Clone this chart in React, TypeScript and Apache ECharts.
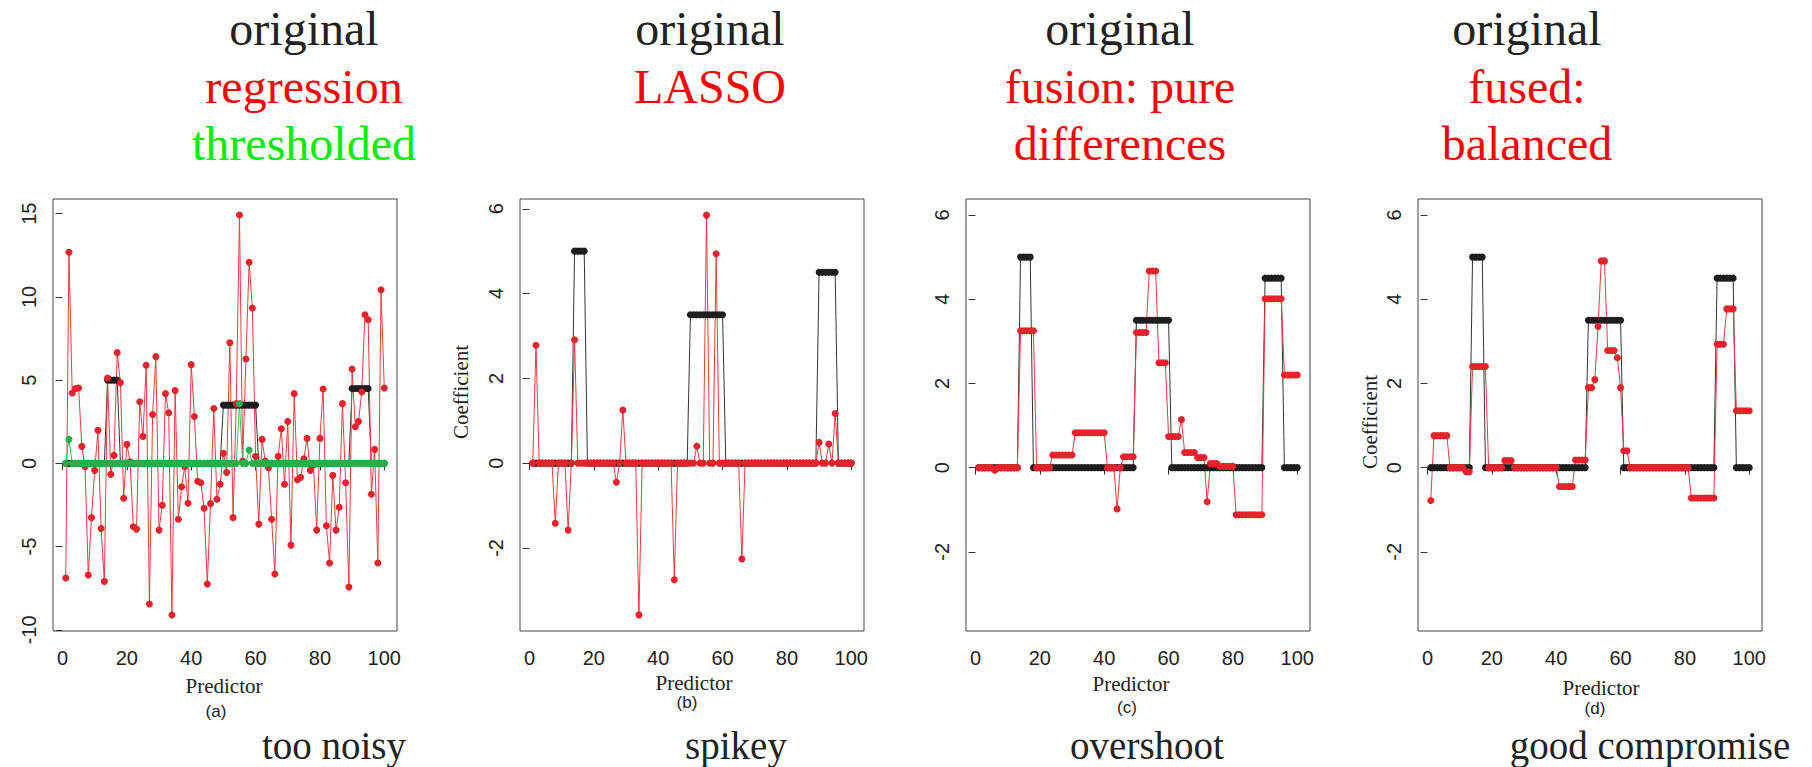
import React, { useEffect, useRef } from "react";
import * as echarts from "echarts";

// ---------- data ----------
const PREDICTORS = [
  1, 2, 3, 4, 5, 6, 7, 8, 9, 10, 11, 12, 13, 14, 15, 16, 17, 18, 19, 20,
  21, 22, 23, 24, 25, 26, 27, 28, 29, 30, 31, 32, 33, 34, 35, 36, 37, 38, 39, 40,
  41, 42, 43, 44, 45, 46, 47, 48, 49, 50, 51, 52, 53, 54, 55, 56, 57, 58, 59, 60,
  61, 62, 63, 64, 65, 66, 67, 68, 69, 70, 71, 72, 73, 74, 75, 76, 77, 78, 79, 80,
  81, 82, 83, 84, 85, 86, 87, 88, 89, 90, 91, 92, 93, 94, 95, 96, 97, 98, 99, 100,
];

const ORIGINAL = [
  0, 0, 0, 0, 0, 0, 0, 0, 0, 0,
  0, 0, 0, 5, 5, 5, 5, 0, 0, 0,
  0, 0, 0, 0, 0, 0, 0, 0, 0, 0,
  0, 0, 0, 0, 0, 0, 0, 0, 0, 0,
  0, 0, 0, 0, 0, 0, 0, 0, 0, 3.5,
  3.5, 3.5, 3.5, 3.5, 3.5, 3.5, 3.5, 3.5, 3.5, 3.5,
  0, 0, 0, 0, 0, 0, 0, 0, 0, 0,
  0, 0, 0, 0, 0, 0, 0, 0, 0, 0,
  0, 0, 0, 0, 0, 0, 0, 0, 0, 4.5,
  4.5, 4.5, 4.5, 4.5, 4.5, 0, 0, 0, 0, 0,
];

const REGRESSION = [
  -6.89, 12.68, 4.23, 4.49, 4.53, 1.02, -0.2, -6.71, -3.26, -0.42,
  1.98, -3.91, -7.09, 5.13, -0.66, 0.48, 6.65, 4.85, -2.1, 1.14,
  0.1, -3.81, -3.95, 3.7, 1.62, 5.89, -8.45, 2.94, 6.41, -4.01,
  -2.52, 4.19, 3.04, -9.11, 4.37, -3.36, -1.4, -0.2, -2.4, 5.93,
  2.82, -1.08, -1.16, -2.7, -7.25, -2.42, 3.3, -2.16, -1.26, 0.6,
  -0.54, 7.24, -3.26, 3.59, 14.92, 0.14, 6.27, 12.08, 9.33, 0.42,
  -3.65, 1.44, 0.14, -0.26, -3.36, -6.65, 0.42, 2.08, -1.26, 2.52,
  -4.91, 4.19, -0.98, -0.84, 0.28, 1.5, -0.42, -0.1, -4.01, 1.5,
  4.47, -3.75, -5.99, -0.72, -4.01, -2.64, 3.59, -1.16, -7.43, 5.67,
  2.2, 2.52, 4.29, 8.93, 8.63, -1.86, 0.84, -5.99, 10.43, 4.53,
];

const THRESHOLDED = [
  0, 1.44, 0, 0, 0, 0, 0, 0, 0, 0,
  0, 0, 0, 0, 0, 0, 0, 0, 0, 0,
  0, 0, 0, 0, 0, 0, 0, 0, 0, 0,
  0, 0, 0, 0, 0, 0, 0, 0, 0, 0,
  0, 0, 0, 0, 0, 0, 0, 0, 0, 0,
  0, 0, 0, 0, 3.59, 0, 0, 0.8, 0, 0,
  0, 0, 0, 0, 0, 0, 0, 0, 0, 0,
  0, 0, 0, 0, 0, 0, 0, 0, 0, 0,
  0, 0, 0, 0, 0, 0, 0, 0, 0, 0,
  0, 0, 0, 0, 0, 0, 0, 0, 0, 0,
];

const LASSO = [
  0, 2.78, 0, 0, 0, 0, 0, -1.42, 0, 0,
  0, -1.58, 0, 2.91, 0, 0, 0, 0, 0, 0,
  0, 0, 0, 0, 0, 0, -0.45, 0, 1.25, 0,
  0, 0, 0, -3.58, 0, 0, 0, 0, 0, 0,
  0, 0, 0, 0, -2.75, 0, 0, 0, 0, 0,
  0, 0.4, 0, 0, 5.85, 0, 0, 4.94, 0, 0,
  0, 0, 0, 0, 0, -2.26, 0, 0, 0, 0,
  0, 0, 0, 0, 0, 0, 0, 0, 0, 0,
  0, 0, 0, 0, 0, 0, 0, 0, 0, 0.49,
  0, 0, 0.45, 0, 1.17, 0, 0, 0, 0, 0,
];

const FUSION = [
  0, 0, 0, 0, 0, -0.06, 0, 0, 0, 0,
  0, 0, 0, 3.25, 3.25, 3.25, 3.25, 3.25, 0, 0,
  0, 0, 0, 0.3, 0.3, 0.3, 0.3, 0.3, 0.3, 0.3,
  0.83, 0.83, 0.83, 0.83, 0.83, 0.83, 0.83, 0.83, 0.83, 0.83,
  0, 0, 0, -0.98, 0, 0.26, 0.26, 0.26, 0.26, 3.21,
  3.21, 3.21, 3.21, 4.67, 4.67, 4.67, 2.49, 2.49, 2.49, 0.74,
  0.74, 0.74, 0.74, 1.14, 0.36, 0.36, 0.36, 0.36, 0.24, 0.24,
  0.24, -0.81, 0.1, 0.1, 0.1, 0.03, 0.03, 0.03, 0.03, 0.03,
  -1.12, -1.12, -1.12, -1.12, -1.12, -1.12, -1.12, -1.12, -1.12, 4.01,
  4.01, 4.01, 4.01, 4.01, 4.01, 2.2, 2.2, 2.2, 2.2, 2.2,
];

const FUSED = [
  -0.78, 0.76, 0.76, 0.76, 0.76, 0.76, 0, 0, 0, 0,
  0, -0.1, -0.1, 2.4, 2.4, 2.4, 2.4, 2.4, 0, 0,
  0, 0, 0, 0.17, 0.17, 0.17, 0, 0, 0, 0,
  0, 0, 0, 0, 0, 0, 0, 0, 0, 0,
  -0.45, -0.45, -0.45, -0.45, -0.45, 0.18, 0.18, 0.18, 0.18, 1.9,
  1.9, 2.09, 3.35, 4.91, 4.91, 2.78, 2.78, 2.78, 2.61, 1.9,
  0.4, 0.4, 0, 0, 0, 0, 0, 0, 0, 0,
  0, 0, 0, 0, 0, 0, 0, 0, 0, 0,
  0, -0.72, -0.72, -0.72, -0.72, -0.72, -0.72, -0.72, -0.72, 2.93,
  2.93, 2.93, 3.77, 3.77, 3.77, 1.35, 1.35, 1.35, 1.35, 1.35,
];

const X_TICKS = [0, 20, 40, 60, 80, 100];
const Y_TICKS_A = [-10, -5, 0, 5, 10, 15];
const Y_TICKS_BCD = [-2, 0, 2, 4, 6];

const TITLES = [
  [["original", "black"], ["regression", "red"], ["thresholded", "green"]],
  [["original", "black"], ["LASSO", "red"]],
  [["original", "black"], ["fusion: pure", "red"], ["differences", "red"]],
  [["original", "black"], ["fused:", "red"], ["balanced", "red"]],
];
const PANEL_LETTERS = ["(a)", "(b)", "(c)", "(d)"];
const CAPTIONS = ["too noisy", "spikey", "overshoot", "good compromise"];

// ---------- styles / layout ----------
const SERIF = "Liberation Serif";
const SANS = "Liberation Sans";
const C_BLACK = "#1e1e1e";
const C_RED = "#e8212b";
const C_GREEN = "#27ae4a";
const TITLE_COLORS: Record<string, string> = {
  black: "#222222",
  red: "#ff0000",
  green: "#00ee00",
};

const GRIDS = [
  { left: 53, top: 199, width: 344, height: 432 },
  { left: 520, top: 199, width: 344, height: 432 },
  { left: 966, top: 199, width: 344, height: 432 },
  { left: 1418, top: 199, width: 344, height: 432 },
];
const Y_RANGES = [
  [-10.07, 15.88],
  [-3.96, 6.23],
  [-3.88, 6.38],
  [-3.88, 6.38],
];
const TITLE_CX = [304, 710, 1120, 1527];
const TITLE_Y = [28, 86, 143];
const PRED_POS = [
  [224, 686],
  [694, 683],
  [1131, 684],
  [1601, 688],
];
const LETTER_POS = [
  [216, 711],
  [687, 702],
  [1127, 707],
  [1595, 708],
];
const CAPTION_POS = [
  [334, 745],
  [736, 745],
  [1147, 745],
  [1650, 745],
];
const COEF_POS: Record<number, [number, number]> = {
  1: [461, 392],
  3: [1370, 422],
};

function pts(arr: number[]) {
  return PREDICTORS.map((x, i) => [x, arr[i]]);
}

function lineSeries(k: number, arr: number[], color: string, lineColor: string) {
  return {
    type: "line",
    xAxisIndex: k,
    yAxisIndex: k,
    data: pts(arr),
    symbol: "circle",
    symbolSize: 7,
    showSymbol: true,
    itemStyle: { color },
    lineStyle: { color: lineColor, width: 1 },
    emphasis: { disabled: true },
    silent: true,
  };
}

export default function App() {
  const ref = useRef<HTMLDivElement>(null);

  useEffect(() => {
    if (!ref.current) return;
    const chart = echarts.init(ref.current, undefined, { renderer: "svg" });

    const grid = GRIDS.map((g) => ({
      ...g,
      show: true,
      borderColor: "#444",
      borderWidth: 1,
      backgroundColor: "transparent",
      containLabel: false,
    }));

    const xAxis = GRIDS.map((_, k) => ({
      gridIndex: k,
      type: "value",
      min: -2.96,
      max: 103.96,
      axisLine: { show: false },
      splitLine: { show: false },
      axisTick: {
        show: true,
        inside: false,
        length: 7,
        customValues: X_TICKS,
        lineStyle: { color: "#333", width: 1 },
      },
      axisLabel: {
        customValues: X_TICKS,
        fontFamily: SANS,
        fontSize: 20,
        color: "#222",
        margin: 17,
      },
    }));

    const yAxis = GRIDS.map((_, k) => {
      const ticks = k === 0 ? Y_TICKS_A : Y_TICKS_BCD;
      return {
        gridIndex: k,
        type: "value",
        min: Y_RANGES[k][0],
        max: Y_RANGES[k][1],
        axisLine: { show: false },
        splitLine: { show: false },
        axisTick: {
          show: true,
          inside: false,
          length: 7,
          customValues: ticks,
          lineStyle: { color: "#333", width: 1 },
        },
        axisLabel: {
          customValues: ticks,
          rotate: 90,
          fontFamily: SANS,
          fontSize: 20,
          color: "#222",
          margin: 14,
        },
      };
    });

    const series: any[] = [
      lineSeries(0, ORIGINAL, C_BLACK, "#333"),
      lineSeries(0, REGRESSION, C_RED, "#f03a3f"),
      lineSeries(0, THRESHOLDED, C_GREEN, "#3cc060"),
      lineSeries(1, ORIGINAL, C_BLACK, "#333"),
      lineSeries(1, LASSO, C_RED, "#f03a3f"),
      lineSeries(2, ORIGINAL, C_BLACK, "#333"),
      lineSeries(2, FUSION, C_RED, "#f03a3f"),
      lineSeries(3, ORIGINAL, C_BLACK, "#333"),
      lineSeries(3, FUSED, C_RED, "#f03a3f"),
    ];

    const graphic: any[] = [];
    TITLES.forEach((lines, k) => {
      lines.forEach(([text, col], j) => {
        graphic.push({
          type: "text",
          x: TITLE_CX[k],
          y: TITLE_Y[j],
          silent: true,
          style: {
            text,
            fill: TITLE_COLORS[col],
            fontFamily: SERIF,
            fontSize: 48,
            align: "center",
            verticalAlign: "middle",
          },
        });
      });
    });
    PRED_POS.forEach(([x, y]) => {
      graphic.push({
        type: "text",
        x,
        y,
        silent: true,
        style: {
          text: "Predictor",
          fill: "#222",
          fontFamily: SERIF,
          fontSize: 21,
          align: "center",
          verticalAlign: "middle",
        },
      });
    });
    LETTER_POS.forEach(([x, y], k) => {
      graphic.push({
        type: "text",
        x,
        y,
        silent: true,
        style: {
          text: PANEL_LETTERS[k],
          fill: "#222",
          fontFamily: SANS,
          fontSize: 17,
          align: "center",
          verticalAlign: "middle",
        },
      });
    });
    CAPTION_POS.forEach(([x, y], k) => {
      graphic.push({
        type: "text",
        x,
        y,
        silent: true,
        style: {
          text: CAPTIONS[k],
          fill: "#222",
          fontFamily: SERIF,
          fontSize: 39,
          align: "center",
          verticalAlign: "middle",
        },
      });
    });
    Object.keys(COEF_POS).forEach((key) => {
      const [x, y] = COEF_POS[Number(key)];
      graphic.push({
        type: "text",
        x,
        y,
        rotation: Math.PI / 2,
        silent: true,
        style: {
          text: "Coefficient",
          fill: "#222",
          fontFamily: SERIF,
          fontSize: 21,
          align: "center",
          verticalAlign: "middle",
        },
      });
    });

    chart.setOption({
      animation: false,
      backgroundColor: "#ffffff",
      grid,
      xAxis,
      yAxis,
      series,
      graphic,
    });

    return () => {
      chart.dispose();
    };
  }, []);

  return (
    <div
      ref={ref}
      style={{ position: "absolute", left: 0, top: 0, width: 1812, height: 767 }}
    />
  );
}
